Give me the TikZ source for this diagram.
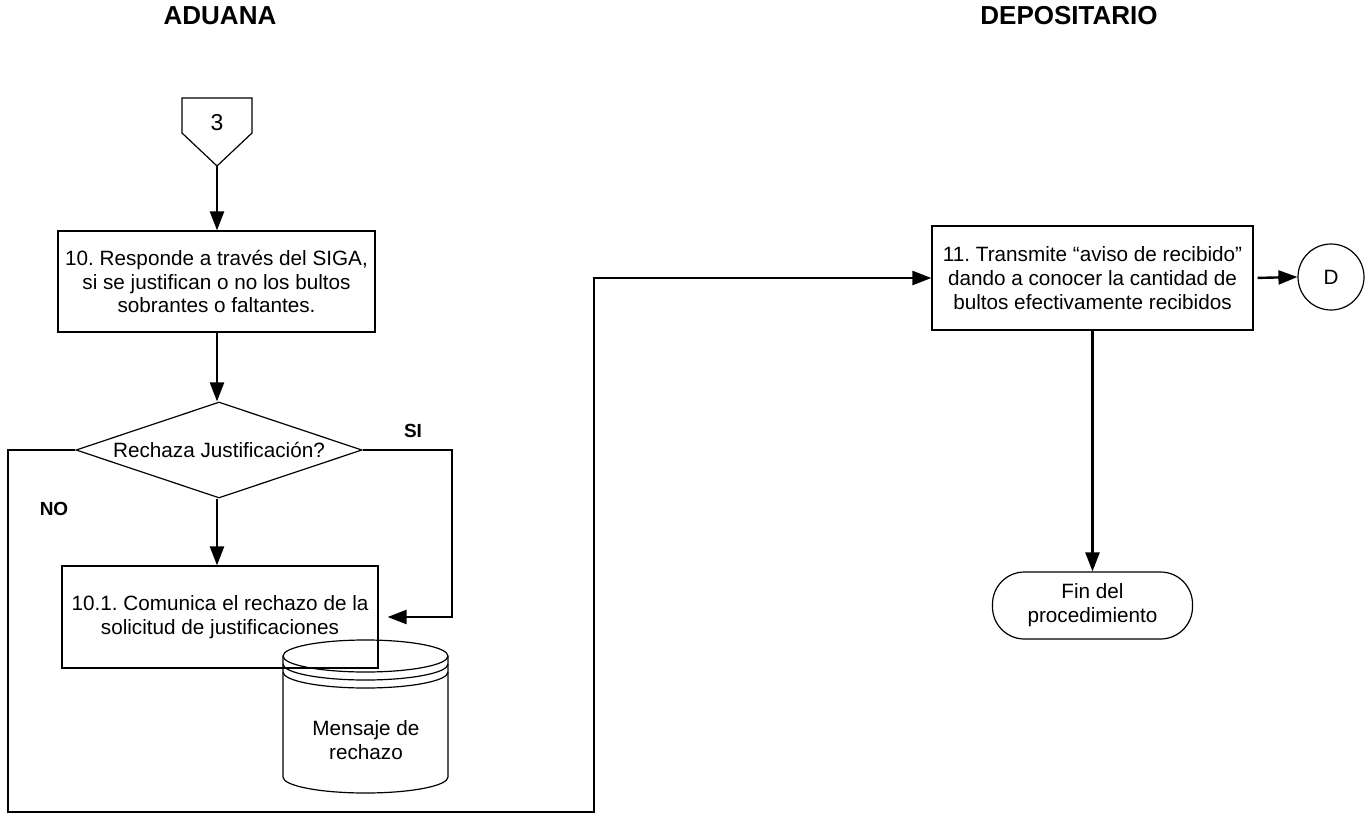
\documentclass[tikz,border=0pt]{standalone}
\usepackage{fontspec}
\setmainfont{Liberation Sans}
\usetikzlibrary{shapes.geometric,arrows.meta}
\frenchspacing
\begin{document}
\begin{tikzpicture}[x=1pt,y=-1pt,
  body/.style={font=\fontsize{20.7}{23.8}\selectfont, align=center, text=black},
  title/.style={font=\fontsize{26}{30}\selectfont\bfseries, text=black},
  lbl/.style={font=\fontsize{19}{22}\selectfont\bfseries, text=black},
  shp/.style={draw=black, line width=1.2pt},
  procbox/.style={shp, rectangle, inner sep=0pt, body},
  conn/.style={draw=black, line width=2.4pt, -{Triangle[length=19pt,width=14pt]}},
]
\useasboundingbox (0,0) rectangle (1368,814);

% titles
\node[title] (tA) at (220,16) {ADUANA};
\node[title] (tD) at (1069,16) {DEPOSITARIO};

% off-page connector 3
\draw[shp] (182,98) -- (252,98) -- (252,133) -- (217,166) -- (182,133) -- cycle;
\coordinate (c3tip) at (217,166);
\node[body, font=\fontsize{23}{26}\selectfont] (c3) at (217,123) {3};

% box 10
\node[procbox, minimum width=317pt, minimum height=101pt] (b10) at (216.5,281.5)
  {10. Responde a través del SIGA,\\si se justifican o no los bultos\\sobrantes o faltantes.};

% decision
\node[shp, diamond, aspect=2.98, minimum width=286pt, minimum height=96pt, inner sep=0pt, body] (dia) at (219,450) {Rechaza Justificación?};

% database cylinder
\draw[shp] (365.5,656) ellipse [x radius=82.5pt, y radius=16pt];
\draw[shp] (448,664) arc[start angle=0, end angle=-180, x radius=82.5pt, y radius=16pt];
\draw[shp] (448,672) arc[start angle=0, end angle=-180, x radius=82.5pt, y radius=16pt];
\draw[shp] (283,656) -- (283,777) arc[start angle=180, end angle=360, x radius=82.5pt, y radius=16pt] -- (448,656);
\node[body] (db) at (366,740) {Mensaje de\\rechazo};

% box 10.1
\node[procbox, minimum width=316pt, minimum height=102pt] (b101) at (220,617)
  {10.1. Comunica el rechazo de la\\solicitud de justificaciones};

% box 11
\node[procbox, minimum width=321pt, minimum height=104pt] (b11) at (1092.5,278)
  {11. Transmite “aviso de recibido”\\dando a conocer la cantidad de\\bultos efectivamente recibidos};

% connector D
\node[shp, circle, minimum size=66pt, inner sep=0pt, body] (D) at (1331,277) {D};

% terminator
\node[shp, rectangle, rounded corners=32pt, minimum width=200pt, minimum height=67pt, inner sep=0pt, body] (fin) at (1092.5,605.5) {Fin del\\procedimiento};

% labels
\node[lbl] (si) at (413,431) {SI};
\node[lbl] (no) at (54,509) {NO};

% connectors
\draw[conn] (c3tip) -- (c3tip |- b10.north);
\draw[conn] (c3tip |- b10.south) -- (c3tip |- dia.north);
\draw[conn] (c3tip |- dia.south) -- (c3tip |- b101.north);
\coordinate (siC) at (452,450);
\draw[conn] (dia.east) -- (siC) |- ([xshift=9pt]b101.east);
\coordinate (noA) at (8,450);
\coordinate (noB) at (8,812);
\coordinate (noC) at (594,812);
\draw[conn, line join=miter] (dia.west) -- (noA) -- (noB) -- (noC) |- (b11.west);
\draw[conn, shorten <=4pt] (b11.east) -- (D.west);
\draw[conn] (b11.south) -- (fin.north);
\end{tikzpicture}
\end{document}
